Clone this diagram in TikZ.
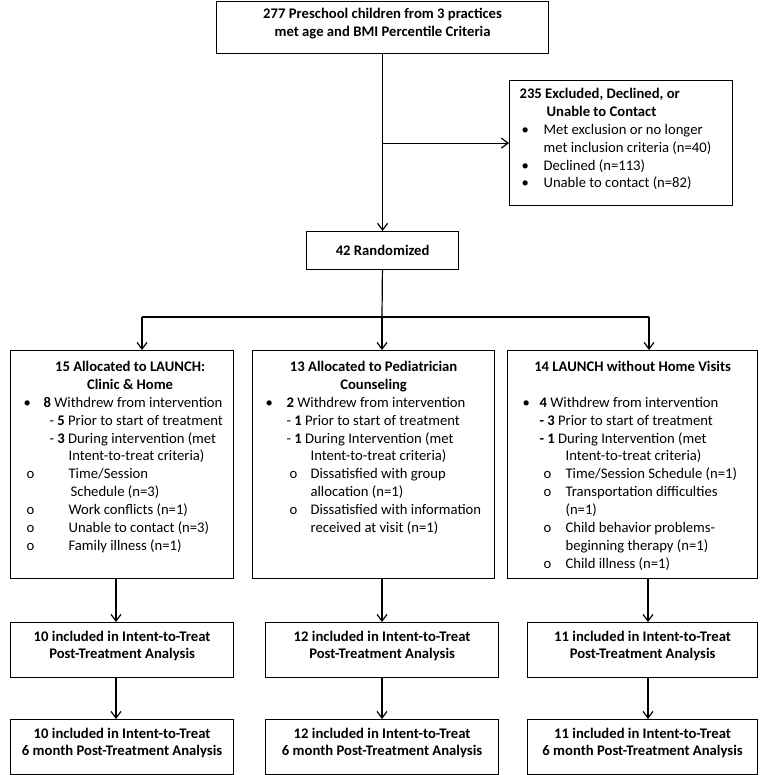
\documentclass[tikz,border=0pt]{standalone}
\usepackage{fontspec}
\setmainfont{Carlito}
\usetikzlibrary{calc}
\usetikzlibrary{positioning}
\usetikzlibrary{arrows.meta}

\newlength{\px}
\setlength{\px}{0.75pt}

\newcommand{\titleline}[2][0]{\makebox[\linewidth]{\hspace*{#1\px}\strut\bfseries #2}\par}
\newcommand{\lineat}[2]{\hspace*{#1\px}#2\par}
\newcommand{\pointat}[4]{\hspace*{#1\px}\makebox[\dimexpr#2\px-#1\px\relax][l]{#3}#4\par}

\begin{document}
\begin{tikzpicture}[x = 0.75pt, y = -0.75pt, line width = 0.9pt,
    box/.style = {draw, fill = white, inner sep = 0pt, anchor = north west, font = \fontsize{11}{13.4}\selectfont},
    cbox/.style = {box, align = center, text depth = 8pt, font = \fontsize{11}{13.2}\selectfont\bfseries},
    arr/.style = {-{Straight Barb[length = 5pt, width = 7.5pt]}}]

    \useasboundingbox (0,0) rectangle (760,775);

    % screening and randomization
    \node (T) [cbox, minimum width = 332\px, minimum height = 52\px] at (216,1)
        {277 Preschool children from 3 practices\\met age and BMI Percentile Criteria};

    \node (E) [box] at (509,80) {\parbox[t][125\px][t]{223\px}{\vspace*{4.1pt}%
        \lineat{10}{\strut\textbf{235 Excluded, Declined, or}}
        \lineat{37}{\textbf{Unable to Contact}}
        \pointat{12}{34}{\textbullet}{Met exclusion or no longer}
        \lineat{34}{met inclusion criteria (n=40)}
        \pointat{12}{34}{\textbullet}{Declined (n=113)}
        \pointat{12}{34}{\textbullet}{Unable to contact (n=82)}}};

    \node (R) [box, align = center, font = \fontsize{11}{13.2}\selectfont\bfseries,
        minimum width = 152\px, minimum height = 38\px] at (306,231) {42 Randomized};

    \draw[arr] (T) -- (R);
    \draw[arr] (T.south |- E.west) -- (E.west);

    % allocation
    \node (A1) [box] at (10,350) {\parbox[t][228\px][t]{223\px}{\vspace*{6.4pt}%
        \titleline[16]{15 Allocated to LAUNCH:}
        \titleline[16]{Clinic \& Home}
        \pointat{13}{33}{\textbullet}{\textbf{8} Withdrew from intervention}
        \lineat{39}{- \textbf{5} Prior to start of treatment}
        \lineat{39}{- \textbf{3} During intervention (met}
        \lineat{58}{Intent-to-treat criteria)}
        \pointat{16}{58}{o}{Time/Session}
        \lineat{60}{Schedule (n=3)}
        \pointat{16}{58}{o}{Work conflicts (n=1)}
        \pointat{16}{58}{o}{Unable to contact (n=3)}
        \pointat{16}{58}{o}{Family illness (n=1)}}};

    \node (A2) [box] at (252,350) {\parbox[t][228\px][t]{242\px}{\vspace*{6.4pt}%
        \titleline{13 Allocated to Pediatrician}
        \titleline{Counseling}
        \pointat{13}{34}{\textbullet}{\textbf{2} Withdrew from intervention}
        \lineat{34}{- \textbf{1} Prior to start of treatment}
        \lineat{34}{- \textbf{1} During Intervention (met}
        \lineat{58}{Intent-to-treat criteria)}
        \pointat{37}{58}{o}{Dissatisfied with group}
        \lineat{58}{allocation (n=1)}
        \pointat{37}{58}{o}{Dissatisfied with information}
        \lineat{58}{received at visit (n=1)}}};

    \node (A3) [box] at (507,350) {\parbox[t][228\px][t]{250\px}{\vspace*{6.4pt}%
        \titleline{14 LAUNCH without Home Visits}
        \strut\par
        \pointat{15}{32}{\textbullet}{\textbf{4} Withdrew from intervention}
        \lineat{32}{\textbf{- 3} Prior to start of treatment}
        \lineat{32}{\textbf{- 1} During Intervention (met}
        \lineat{58}{Intent-to-treat criteria)}
        \pointat{36}{58}{o}{Time/Session Schedule (n=1)}
        \pointat{36}{58}{o}{Transportation difficulties}
        \lineat{58}{(n=1)}
        \pointat{36}{58}{o}{Child behavior problems-}
        \lineat{58}{beginning therapy (n=1)}
        \pointat{36}{58}{o}{Child illness (n=1)}}};

    \coordinate (SL) at (142,317);
    \coordinate (SM) at (382,317);
    \coordinate (SR) at (649,317);

    \draw (R) -- (SM);
    \draw (SL) -- (SR);
    \draw[arr] (SL) -- (SL |- A1.north);
    \draw[arr] (SM) -- (SM |- A2.north);
    \draw[arr] (SR) -- (SR |- A3.north);

    % analysis
    \node (P1) [cbox, minimum width = 223\px, minimum height = 55\px] at (10,622)
        {10 included in Intent-to-Treat\\Post-Treatment Analysis};
    \node (P2) [cbox, minimum width = 233\px, minimum height = 55\px] at (265,622)
        {12 included in Intent-to-Treat\\Post-Treatment Analysis};
    \node (P3) [cbox, minimum width = 230\px, minimum height = 55\px] at (527,622)
        {11 included in Intent-to-Treat\\Post-Treatment Analysis};

    \node (M1) [cbox, minimum width = 223\px, minimum height = 55\px] at (10,719)
        {10 included in Intent-to-Treat\\6 month Post-Treatment Analysis};
    \node (M2) [cbox, minimum width = 233\px, minimum height = 55\px] at (265,719)
        {12 included in Intent-to-Treat\\6 month Post-Treatment Analysis};
    \node (M3) [cbox, minimum width = 230\px, minimum height = 55\px] at (527,719)
        {11 included in Intent-to-Treat\\6 month Post-Treatment Analysis};

    \coordinate (CL) at (116,0);
    \coordinate (CM) at (382,0);
    \coordinate (CR) at (648,0);

    \draw[arr] (CL |- A1.south) -- (CL |- P1.north);
    \draw[arr] (CM |- A2.south) -- (CM |- P2.north);
    \draw[arr] (CR |- A3.south) -- (CR |- P3.north);

    \draw[arr] (CL |- P1.south) -- (CL |- M1.north);
    \draw[arr] (CM |- P2.south) -- (CM |- M2.north);
    \draw[arr] (CR |- P3.south) -- (CR |- M3.north);

\end{tikzpicture}
\end{document}
